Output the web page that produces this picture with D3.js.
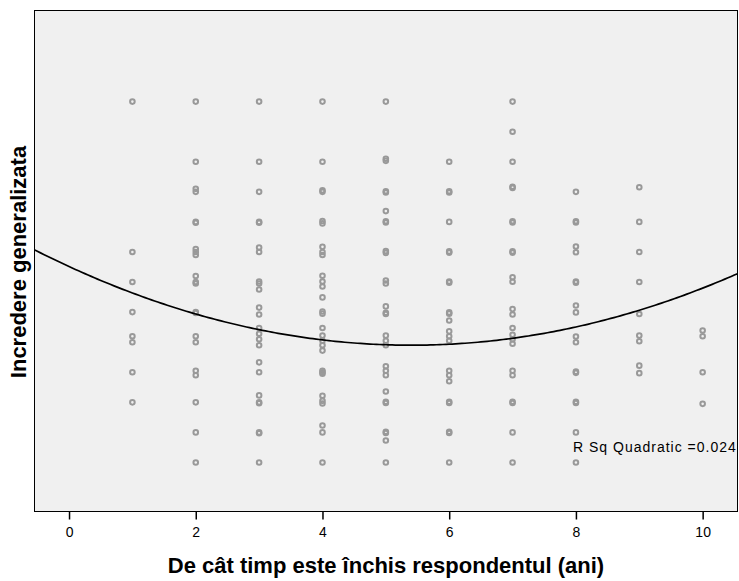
<!DOCTYPE html>
<html>
<head>
<meta charset="utf-8">
<script src="https://cdn.jsdelivr.net/npm/d3@7"></script>
<style>
  body { margin: 0; background: #ffffff; }
  svg { display: block; }
</style>
</head>
<body>
<div id="chart"></div>
<script>
//years spent in prison (x) and the trust scores (y) seen in each column
var years = [1, 2, 3, 4, 5, 6, 7, 8, 9, 10];
var trustYear1 = [12, 7, 6, 5, 4.2, 4, 3, 2];
var trustYear2 = [12, 10, 9.1, 9, 8, 7.97, 7.1, 7, 6.9, 6.2, 6, 5.95, 5, 4.97, 4.2, 4, 3.05, 2.9, 2, 1, 0];
var trustYear3 = [12, 10, 9, 8, 7.97, 7.15, 7, 6.02, 5.95, 5.75, 5.15, 4.92, 4.47, 4.28, 4.1, 3.9, 3.33, 3, 2.23, 2, 1.97, 1, 0.97, 0];
var trustYear4 = [12, 10, 9.05, 9, 8.03, 7.95, 7.17, 7, 6.9, 6.21, 6.02, 5.85, 5.49, 5.02, 4.95, 4.47, 4.22, 4.05, 3.9, 3.72, 3.05, 3, 2.95, 2.22, 2.05, 1.96, 1.23, 1, 0];
var trustYear5 = [12, 10.1, 10.03, 9.02, 8.98, 8.36, 8.02, 7.98, 7.03, 6.97, 6.05, 5.95, 5.19, 4.98, 4.94, 4.22, 4.05, 3.9, 3.2, 3.05, 2.9, 2.36, 2.02, 1.98, 1.02, 0.98, 0.73, 0];
var trustYear6 = [10, 9.02, 8.98, 8, 7.02, 6.98, 6.02, 5.98, 4.99, 4.95, 4.72, 4.36, 4.2, 4.05, 3.05, 2.9, 2.7, 2.02, 1.98, 1.02, 0.98, 0];
var trustYear7 = [12, 11, 10, 9.17, 9.13, 8.02, 7.98, 7.02, 6.98, 6.16, 6.01, 5.1, 4.92, 4.47, 4.25, 4.1, 3.95, 3.05, 2.9, 2.02, 1.98, 1, 0];
var trustYear8 = [9, 8.02, 7.98, 7.18, 6.99, 6.02, 5.98, 5.22, 4.99, 4.19, 4.0, 3.02, 2.98, 2.02, 1.98, 1, 0];
var trustYear9 = [9.15, 8, 7, 6, 4.94, 4.22, 4.03, 3.22, 2.97];
var trustYear10 = [4.39, 4.2, 3, 1.95];
var trustByYear = [trustYear1, trustYear2, trustYear3, trustYear4, trustYear5,
                   trustYear6, trustYear7, trustYear8, trustYear9, trustYear10];

//quadratic fit: b0 + b1*x + b2*x^2
var fitCoef = [6.516, -0.9688, 0.0897];
var fitLabel = "R Sq Quadratic =0.024";
var xTicks = [0, 2, 4, 6, 8, 10];
var xTitle = "De cât timp este închis respondentul (ani)";
var yTitle = "Incredere generalizata";

var W = 739, H = 581;
var box = {left: 34.5, top: 10.5, right: 737.5, bottom: 511.5};

var svg = d3.select("#chart").append("svg")
  .attr("width", W)
  .attr("height", H);

var x = d3.scaleLinear().domain([-0.545, 10.55]).range([box.left, box.right]);
var y = d3.scaleLinear().domain([-1.63, 15.03]).range([box.bottom, box.top]);

//plot background
svg.append("rect")
  .attr("x", box.left)
  .attr("y", box.top)
  .attr("width", box.right - box.left)
  .attr("height", box.bottom - box.top)
  .attr("fill", "#f0f0f0")
  .attr("stroke", "none");

svg.append("clipPath").attr("id", "plotclip")
  .append("rect")
  .attr("x", box.left)
  .attr("y", box.top)
  .attr("width", box.right - box.left)
  .attr("height", box.bottom - box.top);

//flatten into points
var points = [];
years.forEach(function(yr, i) {
  trustByYear[i].forEach(function(v) { points.push({x: yr, y: v}); });
});

svg.append("g").attr("class", "points")
  .selectAll("circle")
  .data(points)
  .enter()
  .append("circle")
  .attr("cx", function(d) { return x(d.x); })
  .attr("cy", function(d) { return y(d.y); })
  .attr("r", 2.3)
  .attr("fill", "none")
  .attr("stroke", "#999999")
  .attr("stroke-width", 2);

//fit line
var fitX = d3.range(-0.6, 10.65, 0.05);
var line = d3.line()
  .x(function(d) { return x(d); })
  .y(function(d) { return y(fitCoef[0] + fitCoef[1]*d + fitCoef[2]*d*d); })
  .curve(d3.curveLinear);

svg.append("path")
  .datum(fitX)
  .attr("clip-path", "url(#plotclip)")
  .attr("d", line)
  .attr("fill", "none")
  .attr("stroke", "#000000")
  .attr("stroke-width", 1.7);

svg.append("text")
  .attr("x", 573)
  .attr("y", 452)
  .attr("font-family", "Liberation Sans, Arial, sans-serif")
  .attr("font-size", 14)
  .attr("letter-spacing", 1)
  .attr("fill", "#000000")
  .text(fitLabel);

//frame
svg.append("rect")
  .attr("x", box.left)
  .attr("y", box.top)
  .attr("width", box.right - box.left)
  .attr("height", box.bottom - box.top)
  .attr("fill", "none")
  .attr("stroke", "#000000")
  .attr("stroke-width", 1);

//x axis
var xAxis = d3.axisBottom(x)
  .tickValues(xTicks)
  .tickSize(8)
  .tickSizeOuter(0)
  .tickPadding(8)
  .tickFormat(d3.format("d"));

var gx = svg.append("g")
  .attr("transform", "translate(0," + box.bottom + ")")
  .call(xAxis);
gx.select(".domain").remove();
gx.selectAll("line").attr("stroke", "#000000").attr("stroke-width", 1.5);
gx.selectAll("text")
  .attr("font-family", "Liberation Sans, Arial, sans-serif")
  .attr("font-size", 14)
  .attr("fill", "#000000");

//axis titles
svg.append("text")
  .attr("x", 386)
  .attr("y", 573)
  .attr("text-anchor", "middle")
  .attr("font-family", "Liberation Sans, Arial, sans-serif")
  .attr("font-weight", "bold")
  .attr("font-size", 22)
  .text(xTitle);

svg.append("text")
  .attr("transform", "translate(26," + 262 + ") rotate(-90)")
  .attr("text-anchor", "middle")
  .attr("font-family", "Liberation Sans, Arial, sans-serif")
  .attr("font-weight", "bold")
  .attr("font-size", 22)
  .text(yTitle);
</script>
</body>
</html>
